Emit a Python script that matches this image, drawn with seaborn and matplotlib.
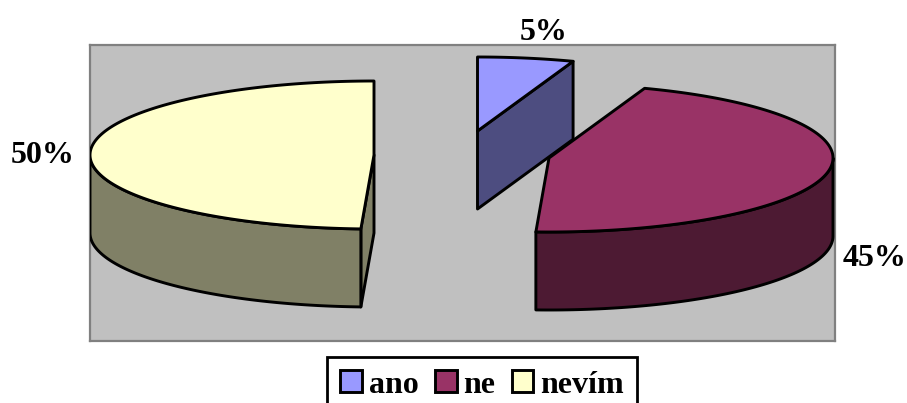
import numpy as np
import matplotlib
matplotlib.use("Agg")
import matplotlib.pyplot as plt
from matplotlib.patches import Polygon, Patch
import seaborn as sns

# Survey answers, in percent
categories = ["ano", "ne", "nevím"]
values = [5.49, 45.49, 49.5]

sns.set_theme(style="white")
plt.rcParams["font.family"] = ["Liberation Serif", "DejaVu Serif"]
plt.rcParams["font.weight"] = "bold"
palette = sns.color_palette(["#9999FF", "#993366", "#FFFFCC"])

# Projection of the tilted pie, in pixel-like axes units
RX, RY, DEPTH = 284, 74, 78
centers = [(477.5, 131), (549, 158), (374, 155)]
label_pos = [(544, 33), (875, 259), (43, 156)]
LINE = 2.1

fig = plt.figure(figsize=(9.07, 4.03), dpi=100, facecolor="white")
ax = fig.add_axes([90 / 907, 1 - 341 / 403, (835 - 90) / 907, (341 - 45) / 403])
ax.set_xlim(90, 835)
ax.set_ylim(341, 45)
ax.set_facecolor("#C0C0C0")
ax.set_xticks([])
ax.set_yticks([])
for spine in ax.spines.values():
    spine.set_color("#808080")
    spine.set_linewidth(1.6)


def rim(cx, cy, start, stop):
    """Points of the ellipse rim between two clockwise angles measured from 12 o'clock."""
    t = np.radians(np.linspace(start, stop, 160))
    return np.column_stack([cx + RX * np.sin(t), cy - RY * np.cos(t)])


def face(points, color, z):
    ax.add_patch(Polygon(points, closed=True, facecolor=color, edgecolor="black",
                         linewidth=LINE, joinstyle="round", zorder=z))


def cut_face(cx, cy, angle, color, z):
    p = rim(cx, cy, angle, angle)[0]
    pts = np.array([[cx, cy], p, p + [0, DEPTH], [cx, cy + DEPTH]])
    face(pts, color, z)


edges = np.concatenate([[0], np.cumsum(values)]) / np.sum(values) * 360

for i, (cat, col) in enumerate(zip(categories, palette)):
    start, stop = edges[i], edges[i + 1]
    cx, cy = centers[i]
    dark = tuple(c * 0.5 for c in col)
    z = 2 + i

    # Straight cut walls that turn towards the viewer
    if np.sin(np.radians(start)) < -1e-9:
        cut_face(cx, cy, start, dark, z)
    if np.sin(np.radians(stop)) > 1e-9:
        cut_face(cx, cy, stop, dark, z)

    # Curved outer wall, front half of the rim only
    lo, hi = max(start, 90), min(stop, 270)
    if lo < hi:
        arc = rim(cx, cy, lo, hi)
        face(np.vstack([arc, arc[::-1] + [0, DEPTH]]), dark, z)

    # Top of the slice
    face(np.vstack([[cx, cy], rim(cx, cy, start, stop)]), col, z + 0.5)

    ax.text(*label_pos[i], f"{values[i]:.0f}%", ha="center", va="center",
            fontsize=23, fontweight="bold", color="black", zorder=10)

handles = [Patch(facecolor=c, edgecolor="black", linewidth=LINE) for c in palette]
leg = fig.legend(handles, categories, loc="upper left",
                 bbox_to_anchor=(327 / 907, 1 - 357 / 403),
                 bbox_transform=fig.transFigure, ncol=3, fontsize=23,
                 frameon=True, fancybox=False, framealpha=1, edgecolor="black",
                 borderaxespad=0, borderpad=0.42, handlelength=0.68, handleheight=0.68,
                 handletextpad=0.2, columnspacing=0.52)
leg.get_frame().set_linewidth(2.0)
for txt in leg.get_texts():
    txt.set_fontweight("bold")
    txt.set_color("black")

fig.savefig("out.png", dpi=100, facecolor="white")
